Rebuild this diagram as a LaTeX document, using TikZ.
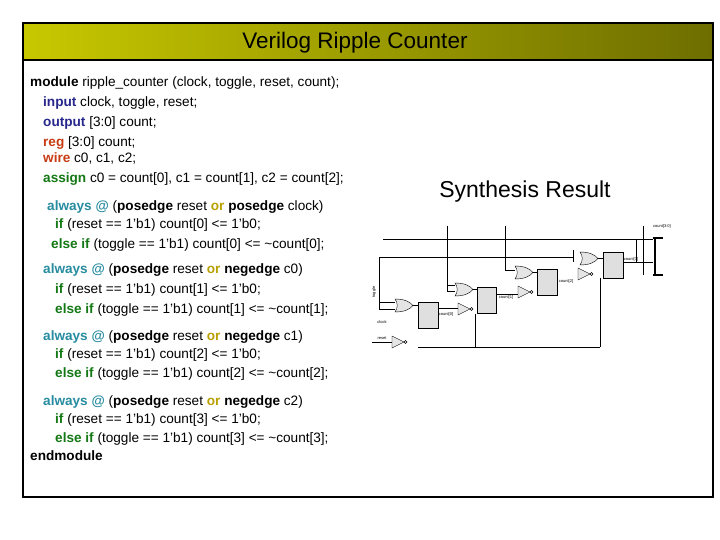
\documentclass[tikz,border=0pt]{standalone}
\usepackage{fontspec}
\setmainfont{Liberation Sans}
\begin{document}
\begin{tikzpicture}[x=1pt,y=-1pt,
 code/.style={anchor=base west,inner sep=0pt,font=\fontsize{13.6}{15}\selectfont},
 ff/.style={draw=black,fill=gray!25,line width=0.4pt},
 gate/.style={draw=black,fill=gray!20,line width=0.4pt},
 w/.style={line width=0.5pt},
 tiny/.style={font=\fontsize{4}{4}\selectfont,inner sep=0pt}]
\definecolor{kwblue}{RGB}{40,40,140}
\definecolor{kwred}{RGB}{200,60,20}
\definecolor{kwgreen}{RGB}{20,120,20}
\definecolor{kwteal}{RGB}{40,140,160}
\definecolor{kwor}{RGB}{184,160,0}
\definecolor{hdL}{RGB}{200,200,0}
\definecolor{hdR}{RGB}{110,110,0}
\useasboundingbox (0,0) rectangle (720,540);
\fill[white] (0,0) rectangle (720,540);
\shade[left color=hdL,right color=hdR] (24,24) rectangle (712,60);
\draw[line width=2pt] (23,23) rectangle (713,497);
\draw[line width=1.5pt] (23,60) -- (713,60);
\node[font=\fontsize{22.5}{24}\selectfont] (title) at (355,43) {Verilog Ripple Counter};
\node[font=\fontsize{23}{25}\selectfont] (syn) at (525,192) {Synthesis Result};
% code
\node[code] (l1) at (30,87) {\textbf{module} ripple\_counter (clock, toggle, reset, count);};
\node[code] (l2) at (43,107) {\textcolor{kwblue}{\textbf{input}} clock, toggle, reset;};
\node[code] (l3) at (43,127) {\textcolor{kwblue}{\textbf{output}} [3:0] count;};
\node[code] (l4) at (43,147) {\textcolor{kwred}{\textbf{reg}} [3:0] count;};
\node[code] (l5) at (43,163) {\textcolor{kwred}{\textbf{wire}} c0, c1, c2;};
\node[code] (l6) at (43,183) {\textcolor{kwgreen}{\textbf{assign}} c0 = count[0], c1 = count[1], c2 = count[2];};
\node[code] (l7) at (47,211) {\textcolor{kwteal}{\textbf{always @}} (\textbf{posedge} reset \textcolor{kwor}{\textbf{or}} \textbf{posedge} clock)};
\node[code] (l8) at (55,229) {\textcolor{kwgreen}{\textbf{if}} (reset == 1'b1) count[0] <= 1'b0;};
\node[code] (l9) at (51,248) {\textcolor{kwgreen}{\textbf{else if}} (toggle == 1'b1) count[0] <= \textasciitilde count[0];};
\node[code] (l10) at (43,273) {\textcolor{kwteal}{\textbf{always @}} (\textbf{posedge} reset \textcolor{kwor}{\textbf{or}} \textbf{negedge} c0)};
\node[code] (l11) at (55,293) {\textcolor{kwgreen}{\textbf{if}} (reset == 1'b1) count[1] <= 1'b0;};
\node[code] (l12) at (55,313) {\textcolor{kwgreen}{\textbf{else if}} (toggle == 1'b1) count[1] <= \textasciitilde count[1];};
\node[code] (l13) at (43,340) {\textcolor{kwteal}{\textbf{always @}} (\textbf{posedge} reset \textcolor{kwor}{\textbf{or}} \textbf{negedge} c1)};
\node[code] (l14) at (55,358) {\textcolor{kwgreen}{\textbf{if}} (reset == 1'b1) count[2] <= 1'b0;};
\node[code] (l15) at (55,377) {\textcolor{kwgreen}{\textbf{else if}} (toggle == 1'b1) count[2] <= \textasciitilde count[2];};
\node[code] (l16) at (43,405) {\textcolor{kwteal}{\textbf{always @}} (\textbf{posedge} reset \textcolor{kwor}{\textbf{or}} \textbf{negedge} c2)};
\node[code] (l17) at (55,423) {\textcolor{kwgreen}{\textbf{if}} (reset == 1'b1) count[3] <= 1'b0;};
\node[code] (l18) at (55,442) {\textcolor{kwgreen}{\textbf{else if}} (toggle == 1'b1) count[3] <= \textasciitilde count[3];};
\node[code] (l19) at (30,460) {\textbf{endmodule}};
% schematic wires
\draw[w] (383,239) -- (653,239);
\draw[w] (379,257) -- (573,257);
\draw[w] (379,257) -- (379,309) -- (395,309);
\draw[w] (379,302) -- (395,302);
\draw[w] (447,226) -- (447,291) -- (455,291);
\draw[w] (447,285) -- (455,285);
\draw[w] (505,226) -- (505,270) -- (515,270);
\draw[w] (573,250) -- (573,262);
\draw[w] (418,347) -- (600,347);
\draw[w] (475,347) -- (475,314);
\draw[w] (600,347) -- (600,278);
\draw[w] (372,342) -- (392,342);
\draw[w] (412,305) -- (418,305);
\draw[w] (472,289) -- (477,289);
\draw[w] (532,272) -- (537,272);
\draw[w] (597,258) -- (603,258);
\draw[w] (438,308) -- (458,308);
\draw[w] (496,294) -- (518,294);
\draw[w] (623,262) -- (653,262);
\draw[w] (636,240) -- (636,262);
\draw[w] (643,226) -- (643,275);
\draw[line width=2pt] (655,238) -- (655,275);
\draw[line width=2pt] (653,238) -- (663,238);
\draw[line width=2pt] (653,275) -- (663,275);
% flip-flops
\draw[ff] (418,302) rectangle (438,328);
\draw[ff] (477,287) rectangle (496,313);
\draw[ff] (537,269) rectangle (557,295);
\draw[ff] (603,252) rectangle (623,278);
% OR gates
\foreach \x/\y in {395/299,455/283,515/266,580/252}{
 \draw[gate] (\x,\y) .. controls (\x+10,\y) and (\x+15,\y+3) .. (\x+18,\y+6.5)
  .. controls (\x+15,\y+10) and (\x+10,\y+13) .. (\x,\y+13)
  .. controls (\x+3,\y+9) and (\x+3,\y+4) .. cycle;}
% inverters
\foreach \x/\y in {392/342,458/309,518/292,578/274}{
 \draw[gate] (\x,\y-6) -- (\x+12,\y) -- (\x,\y+6) -- cycle;
 \draw (\x+13.5,\y) circle (1.5);}
% labels
\node[tiny,rotate=90] (tg) at (374,292) {toggle};
\node[tiny] (ck) at (382,322) {clock};
\node[tiny] (rs) at (382,338) {reset};
\node[tiny] (q0) at (446,314) {count[0]};
\node[tiny] (q1) at (506,297) {count[1]};
\node[tiny] (q2) at (566,281) {count[2]};
\node[tiny] (q3) at (631,259) {count[3]};
\node[tiny] (qb) at (662,226) {count[3:0]};
\end{tikzpicture}
\end{document}
